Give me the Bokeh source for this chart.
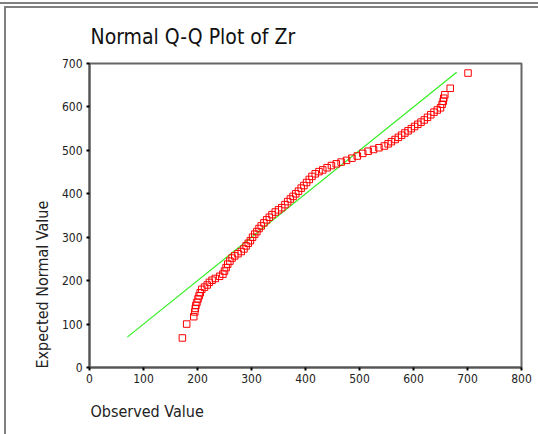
from bokeh.plotting import figure
from bokeh.models import Range1d, FixedTicker, Title
from bokeh.embed import file_html
from bokeh.resources import INLINE

FONT = "DejaVu Sans Condensed"

title_text = "Normal Q-Q Plot of Zr"
x_label = "Observed Value"
y_label = "Expected Normal Value"
x_ticks = [0, 100, 200, 300, 400, 500, 600, 700, 800]
y_ticks = [0, 100, 200, 300, 400, 500, 600, 700]

observed = [172, 180, 193, 195, 196, 197, 199, 201, 203, 205, 208, 213, 218, 222,
            227, 233, 241, 247, 250, 253, 256, 260, 264, 269, 275, 281, 286, 290,
            294, 298, 302, 306, 310, 314, 318, 323, 328, 333, 338, 344, 350, 356,
            362, 367, 372, 377, 382, 387, 392, 397, 402, 407, 412, 418, 425, 432,
            440, 448, 457, 466, 476, 486, 496, 506, 516, 526, 536, 546, 553, 559,
            566, 572, 578, 584, 590, 596, 602, 608, 614, 620, 626, 632, 638, 644,
            650, 653, 655, 656, 658, 668, 701]
expected = [68, 100, 117, 128, 136, 143, 150, 158, 165, 172, 180, 185, 190, 196,
            201, 205, 210, 215, 222, 230, 238, 245, 252, 257, 262, 267, 273, 280,
            286, 292, 300, 307, 313, 320, 326, 333, 340, 346, 352, 358, 363, 368,
            375, 382, 388, 394, 400, 406, 413, 419, 426, 433, 440, 446, 451, 455,
            460, 465, 469, 473, 477, 482, 487, 493, 498, 502, 506, 510, 515, 520,
            525, 530, 535, 540, 545, 550, 555, 560, 565, 570, 576, 582, 588, 593,
            598, 606, 613, 620, 628, 643, 678]
ref_line_x = [70, 680]
ref_line_y = [70, 680]

frame_css = {
    "background-color": "white",
    "background-image": "linear-gradient(#808080,#808080), linear-gradient(#808080,#808080), linear-gradient(#808080,#808080)",
    "background-size": "100% 2px, 100% 2px, 2px 100%",
    "background-position": "0px 2px, 4px 6px, 4px 6px",
    "background-repeat": "no-repeat",
}

p = figure(width=538, height=434, output_backend="svg", toolbar_location=None,
           x_range=Range1d(0, 800), y_range=Range1d(0, 700),
           min_border_left=89, min_border_right=17, min_border_top=63, min_border_bottom=67,
           styles=frame_css)
p.background_fill_color = "white"
p.border_fill_color = None
p.outline_line_color = "#666666"
p.outline_line_width = 2
p.xgrid.visible = False
p.ygrid.visible = False

p.title.text = title_text
p.title.align = "left"
p.title.offset = 1
p.title.standoff = 29
p.title.text_font = FONT
p.title.text_font_size = "21px"
p.title.text_font_style = "normal"
p.title.text_color = "#111111"

p.add_layout(Title(text=x_label, align="left", offset=1, standoff=28, text_font=FONT,
                   text_font_size="16px", text_font_style="normal",
                   text_color="#222222"), "below")
p.add_layout(Title(text=y_label, align="left", offset=-1, standoff=13, text_font=FONT,
                   text_font_size="16px", text_font_style="normal",
                   text_color="#222222"), "left")

for ax in (p.xaxis[0], p.yaxis[0]):
    ax.axis_line_color = "#555555"
    ax.axis_line_width = 2
    ax.major_tick_line_color = "black"
    ax.major_tick_line_width = 2
    ax.major_tick_out = 3
    ax.major_tick_in = 0
    ax.minor_tick_line_color = None
    ax.major_label_text_font = FONT
    ax.major_label_text_font_size = "12px"
    ax.major_label_text_color = "#222222"
p.xaxis[0].ticker = FixedTicker(ticks=x_ticks)
p.yaxis[0].ticker = FixedTicker(ticks=y_ticks)
p.xaxis[0].major_label_standoff = 3
p.yaxis[0].major_label_standoff = 4

p.line(ref_line_x, ref_line_y, line_color="#33ee22", line_width=1.2)
p.scatter(observed, expected, marker="square", size=6.5, fill_color=None,
          line_color="#ff0000", line_width=1)

open("out.html", "w").write(file_html(p, INLINE))
